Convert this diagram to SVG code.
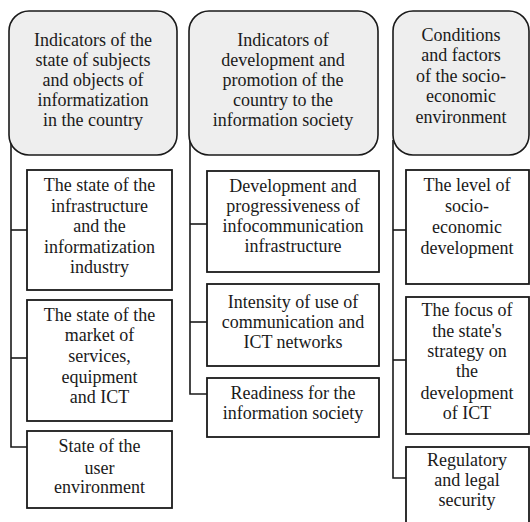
<svg xmlns="http://www.w3.org/2000/svg" width="530" height="522" viewBox="0 0 530 522">
<rect width="530" height="522" fill="#ffffff"/>
<g id="connectors" fill="none" stroke="#1a1a1a" stroke-width="1.6">
<polyline points="11,140 11,447 27,447"/>
<line x1="11" y1="230" x2="27" y2="230"/>
<line x1="11" y1="358" x2="27" y2="358"/>
<polyline points="190,140 190,394 207,394"/>
<line x1="190" y1="224" x2="207" y2="224"/>
<line x1="190" y1="322" x2="207" y2="322"/>
<polyline points="393,140 393,478 406,478"/>
<line x1="393" y1="230" x2="406" y2="230"/>
<line x1="393" y1="360" x2="406" y2="360"/>
</g>
<g id="h1">
<rect x="9" y="11" width="168" height="144" rx="20" fill="#eeeeee" stroke="#1a1a1a" stroke-width="1.6"/>
<text font-family="Liberation Serif" font-size="18" fill="#1a1a1a" text-anchor="middle" x="93" y="46">Indicators of the</text>
<text font-family="Liberation Serif" font-size="18" fill="#1a1a1a" text-anchor="middle" x="93" y="66">state of subjects</text>
<text font-family="Liberation Serif" font-size="18" fill="#1a1a1a" text-anchor="middle" x="93" y="86">and objects of</text>
<text font-family="Liberation Serif" font-size="18" fill="#1a1a1a" text-anchor="middle" x="93" y="106">informatization</text>
<text font-family="Liberation Serif" font-size="18" fill="#1a1a1a" text-anchor="middle" x="93" y="126">in the country</text>
</g>
<g id="h2">
<rect x="189" y="11" width="189" height="144" rx="20" fill="#eeeeee" stroke="#1a1a1a" stroke-width="1.6"/>
<text font-family="Liberation Serif" font-size="18" fill="#1a1a1a" text-anchor="middle" x="283" y="46">Indicators of</text>
<text font-family="Liberation Serif" font-size="18" fill="#1a1a1a" text-anchor="middle" x="283" y="66">development and</text>
<text font-family="Liberation Serif" font-size="18" fill="#1a1a1a" text-anchor="middle" x="283" y="86">promotion of the</text>
<text font-family="Liberation Serif" font-size="18" fill="#1a1a1a" text-anchor="middle" x="283" y="106">country to the</text>
<text font-family="Liberation Serif" font-size="18" fill="#1a1a1a" text-anchor="middle" x="283" y="126">information society</text>
</g>
<g id="h3">
<rect x="393" y="11" width="136" height="144" rx="20" fill="#eeeeee" stroke="#1a1a1a" stroke-width="1.6"/>
<text font-family="Liberation Serif" font-size="18" fill="#1a1a1a" text-anchor="middle" x="461" y="41">Conditions</text>
<text font-family="Liberation Serif" font-size="18" fill="#1a1a1a" text-anchor="middle" x="461" y="61">and factors</text>
<text font-family="Liberation Serif" font-size="18" fill="#1a1a1a" text-anchor="middle" x="461" y="82">of the socio-</text>
<text font-family="Liberation Serif" font-size="18" fill="#1a1a1a" text-anchor="middle" x="461" y="102">economic</text>
<text font-family="Liberation Serif" font-size="18" fill="#1a1a1a" text-anchor="middle" x="461" y="123">environment</text>
</g>
<g id="l1">
<rect x="27" y="170" width="145" height="120" fill="#ffffff" stroke="#1a1a1a" stroke-width="1.8"/>
<text font-family="Liberation Serif" font-size="18" fill="#1a1a1a" text-anchor="middle" x="99.5" y="191">The state of the</text>
<text font-family="Liberation Serif" font-size="18" fill="#1a1a1a" text-anchor="middle" x="99.5" y="212">infrastructure</text>
<text font-family="Liberation Serif" font-size="18" fill="#1a1a1a" text-anchor="middle" x="99.5" y="232">and the</text>
<text font-family="Liberation Serif" font-size="18" fill="#1a1a1a" text-anchor="middle" x="99.5" y="253">informatization</text>
<text font-family="Liberation Serif" font-size="18" fill="#1a1a1a" text-anchor="middle" x="99.5" y="273">industry</text>
</g>
<g id="l2">
<rect x="27" y="300" width="145" height="121" fill="#ffffff" stroke="#1a1a1a" stroke-width="1.8"/>
<text font-family="Liberation Serif" font-size="18" fill="#1a1a1a" text-anchor="middle" x="99.5" y="321">The state of the</text>
<text font-family="Liberation Serif" font-size="18" fill="#1a1a1a" text-anchor="middle" x="99.5" y="341">market of</text>
<text font-family="Liberation Serif" font-size="18" fill="#1a1a1a" text-anchor="middle" x="99.5" y="362">services,</text>
<text font-family="Liberation Serif" font-size="18" fill="#1a1a1a" text-anchor="middle" x="99.5" y="383">equipment</text>
<text font-family="Liberation Serif" font-size="18" fill="#1a1a1a" text-anchor="middle" x="99.5" y="403">and ICT</text>
</g>
<g id="l3">
<rect x="27" y="431" width="145" height="77" fill="#ffffff" stroke="#1a1a1a" stroke-width="1.8"/>
<text font-family="Liberation Serif" font-size="18" fill="#1a1a1a" text-anchor="middle" x="99.5" y="452">State of the</text>
<text font-family="Liberation Serif" font-size="18" fill="#1a1a1a" text-anchor="middle" x="99.5" y="474">user</text>
<text font-family="Liberation Serif" font-size="18" fill="#1a1a1a" text-anchor="middle" x="99.5" y="493">environment</text>
</g>
<g id="m1">
<rect x="207" y="171" width="172" height="101" fill="#ffffff" stroke="#1a1a1a" stroke-width="1.8"/>
<text font-family="Liberation Serif" font-size="18" fill="#1a1a1a" text-anchor="middle" x="293" y="192">Development and</text>
<text font-family="Liberation Serif" font-size="18" fill="#1a1a1a" text-anchor="middle" x="293" y="212">progressiveness of</text>
<text font-family="Liberation Serif" font-size="18" fill="#1a1a1a" text-anchor="middle" x="293" y="232">infocommunication</text>
<text font-family="Liberation Serif" font-size="18" fill="#1a1a1a" text-anchor="middle" x="293" y="252">infrastructure</text>
</g>
<g id="m2">
<rect x="207" y="284" width="172" height="82" fill="#ffffff" stroke="#1a1a1a" stroke-width="1.8"/>
<text font-family="Liberation Serif" font-size="18" fill="#1a1a1a" text-anchor="middle" x="293" y="308">Intensity of use of</text>
<text font-family="Liberation Serif" font-size="18" fill="#1a1a1a" text-anchor="middle" x="293" y="328">communication and</text>
<text font-family="Liberation Serif" font-size="18" fill="#1a1a1a" text-anchor="middle" x="293" y="348">ICT networks</text>
</g>
<g id="m3">
<rect x="207" y="378" width="172" height="59" fill="#ffffff" stroke="#1a1a1a" stroke-width="1.8"/>
<text font-family="Liberation Serif" font-size="18" fill="#1a1a1a" text-anchor="middle" x="293" y="399">Readiness for the</text>
<text font-family="Liberation Serif" font-size="18" fill="#1a1a1a" text-anchor="middle" x="293" y="419">information society</text>
</g>
<g id="r1">
<rect x="406" y="170" width="123" height="114" fill="#ffffff" stroke="#1a1a1a" stroke-width="1.8"/>
<text font-family="Liberation Serif" font-size="18" fill="#1a1a1a" text-anchor="middle" x="467" y="191">The level of</text>
<text font-family="Liberation Serif" font-size="18" fill="#1a1a1a" text-anchor="middle" x="467" y="212">socio-</text>
<text font-family="Liberation Serif" font-size="18" fill="#1a1a1a" text-anchor="middle" x="467" y="233">economic</text>
<text font-family="Liberation Serif" font-size="18" fill="#1a1a1a" text-anchor="middle" x="467" y="254">development</text>
</g>
<g id="r2">
<rect x="406" y="297" width="123" height="137" fill="#ffffff" stroke="#1a1a1a" stroke-width="1.8"/>
<text font-family="Liberation Serif" font-size="18" fill="#1a1a1a" text-anchor="middle" x="467" y="316">The focus of</text>
<text font-family="Liberation Serif" font-size="18" fill="#1a1a1a" text-anchor="middle" x="467" y="337">the state's</text>
<text font-family="Liberation Serif" font-size="18" fill="#1a1a1a" text-anchor="middle" x="467" y="357">strategy on</text>
<text font-family="Liberation Serif" font-size="18" fill="#1a1a1a" text-anchor="middle" x="467" y="377">the</text>
<text font-family="Liberation Serif" font-size="18" fill="#1a1a1a" text-anchor="middle" x="467" y="399">development</text>
<text font-family="Liberation Serif" font-size="18" fill="#1a1a1a" text-anchor="middle" x="467" y="419">of ICT</text>
</g>
<g id="r3">
<rect x="406" y="447" width="123" height="90" fill="#ffffff" stroke="#1a1a1a" stroke-width="1.8"/>
<text font-family="Liberation Serif" font-size="18" fill="#1a1a1a" text-anchor="middle" x="467" y="466">Regulatory</text>
<text font-family="Liberation Serif" font-size="18" fill="#1a1a1a" text-anchor="middle" x="467" y="486">and legal</text>
<text font-family="Liberation Serif" font-size="18" fill="#1a1a1a" text-anchor="middle" x="467" y="506">security</text>
</g>
</svg>
